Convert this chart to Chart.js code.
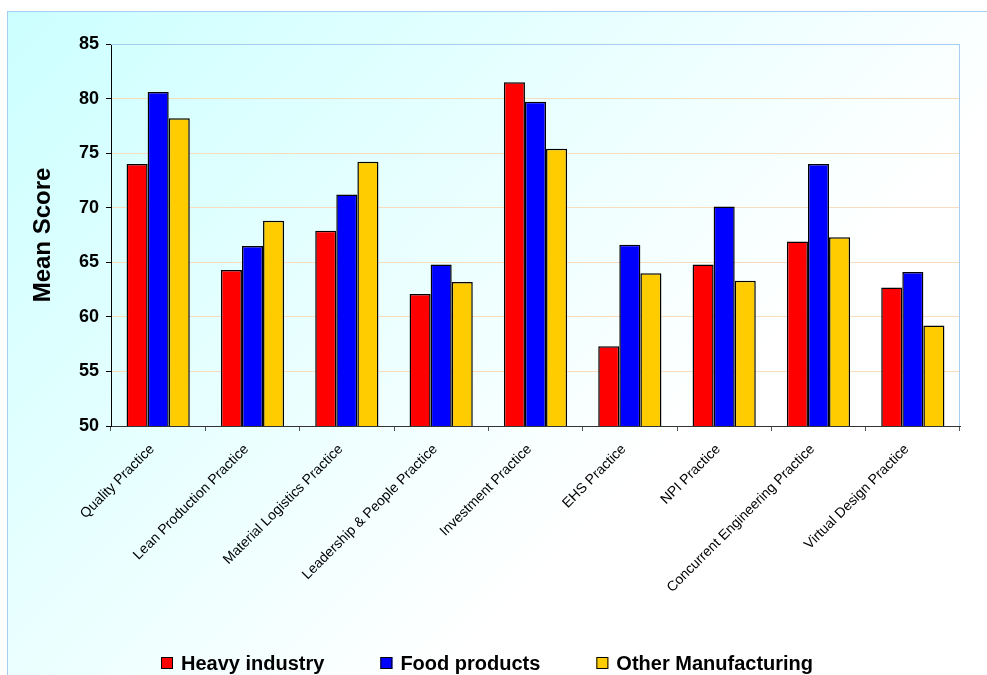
<!DOCTYPE html>
<html>
<head>
<meta charset="utf-8">
<script src="https://cdn.jsdelivr.net/npm/chart.js@4/dist/chart.umd.min.js"></script>
<style>
  html, body { margin: 0; padding: 0; background: #fff; }
  #wrap { width: 987px; height: 675px; }
</style>
</head>
<body>
<div id="wrap"><canvas id="myChart" width="987" height="675"></canvas></div>
<script>
const practices = ["Quality Practice", "Lean Production Practice", "Material Logistics Practice",
  "Leadership & People Practice", "Investment Practice", "EHS Practice", "NPI Practice",
  "Concurrent Engineering Practice", "Virtual Design Practice"];
const heavyIndustry = [74.0, 64.3, 67.9, 62.1, 81.5, 57.3, 64.8, 66.9, 62.7];
const foodProducts = [80.6, 66.5, 71.2, 64.8, 79.7, 66.6, 70.1, 74.0, 64.1];
const otherManufacturing = [78.2, 68.8, 74.2, 63.2, 75.4, 64.0, 63.3, 67.3, 59.2];
const yTicks = [50, 55, 60, 65, 70, 75, 80, 85];

const fontFamily = "'Liberation Sans', Arial, sans-serif";

// light cyan panel behind the whole chart
const backdrop = {
  id: "backdrop",
  beforeDraw(chart) {
    const ctx = chart.ctx;
    ctx.save();
    const g = ctx.createLinearGradient(8, 11, 560, 560);
    g.addColorStop(0, "#ccffff");
    g.addColorStop(1, "#ffffff");
    ctx.fillStyle = g;
    ctx.fillRect(8, 11, 1000, 700);
    ctx.strokeStyle = "#a6cdf2";
    ctx.lineWidth = 1;
    ctx.strokeRect(7.5, 11.5, 1000, 700);
    ctx.restore();
  },
  afterDatasetsDraw(chart) {
    // top and right edges of the plot area
    const a = chart.chartArea, ctx = chart.ctx;
    ctx.save();
    ctx.strokeStyle = "#a6cdf2";
    ctx.lineWidth = 1;
    ctx.beginPath();
    ctx.moveTo(a.left, a.top + 0.5);
    ctx.lineTo(a.right - 0.5, a.top + 0.5);
    ctx.lineTo(a.right - 0.5, a.bottom);
    ctx.stroke();
    ctx.restore();
  }
};

// legend row along the bottom
const bottomLegend = {
  id: "bottomLegend",
  afterDraw(chart) {
    const ctx = chart.ctx;
    const sets = chart.data.datasets;
    const box = 12, gapText = 8, gapItem = 56, cy = 663;
    ctx.save();
    ctx.font = "bold 20px " + fontFamily;
    const widths = sets.map(d => box + gapText + ctx.measureText(d.label).width);
    const total = widths.reduce((s, w) => s + w, 0) + gapItem * (sets.length - 1);
    let x = Math.round(487 - total / 2);
    sets.forEach((d, i) => {
      ctx.fillStyle = d.backgroundColor;
      ctx.fillRect(x, cy - box / 2, box, box);
      ctx.strokeStyle = "#000";
      ctx.lineWidth = 1;
      ctx.strokeRect(x + 0.5, cy - box / 2 + 0.5, box - 1, box - 1);
      ctx.fillStyle = "#000";
      ctx.textBaseline = "middle";
      ctx.fillText(d.label, x + box + gapText, cy + 1);
      x += widths[i] + gapItem;
    });
    ctx.restore();
  }
};

new Chart("myChart", {
  type: "bar",
  data: {
    labels: practices,
    datasets: [
      { label: "Heavy industry", data: heavyIndustry, backgroundColor: "#ff0000" },
      { label: "Food products", data: foodProducts, backgroundColor: "#0000ff" },
      { label: "Other Manufacturing", data: otherManufacturing, backgroundColor: "#ffcc00" }
    ]
  },
  options: {
    responsive: false,
    animation: false,
    layout: { padding: { left: 0, top: 44, right: 27, bottom: 0 } },
    datasets: {
      bar: {
        borderColor: "#000",
        borderWidth: 1.5,
        categoryPercentage: 0.67,
        barPercentage: 1.0
      }
    },
    plugins: {
      legend: { display: false },
      tooltip: { enabled: false }
    },
    scales: {
      x: {
        grid: {
          offset: true,
          drawOnChartArea: false,
          drawTicks: true,
          tickLength: 5,
          color: "#555"
        },
        border: { color: "#333", width: 1 },
        ticks: {
          minRotation: 45,
          maxRotation: 45,
          padding: 10,
          labelOffset: -6,
          color: "#000",
          font: { family: fontFamily, size: 14 }
        },
        afterFit(scale) { scale.height = 249; }
      },
      y: {
        min: 50,
        max: 85,
        afterBuildTicks(scale) { scale.ticks = yTicks.map(v => ({ value: v })); },
        grid: {
          color: c => c.tick && c.tick.value === 85 ? "#a6cdf2" : "#f9dcbd",
          tickColor: "#000",
          tickLength: 5,
          lineWidth: 1
        },
        border: { color: "#000", width: 1 },
        ticks: {
          padding: 7,
          color: "#000",
          font: { family: fontFamily, size: 18, weight: "bold" }
        },
        title: {
          display: true,
          text: "Mean Score",
          color: "#000",
          padding: { top: 29, bottom: 0 },
          font: { family: fontFamily, size: 24, weight: "bold" }
        },
        afterFit(scale) { scale.width = 111; }
      }
    }
  },
  plugins: [backdrop, bottomLegend]
});
</script>
</body>
</html>
